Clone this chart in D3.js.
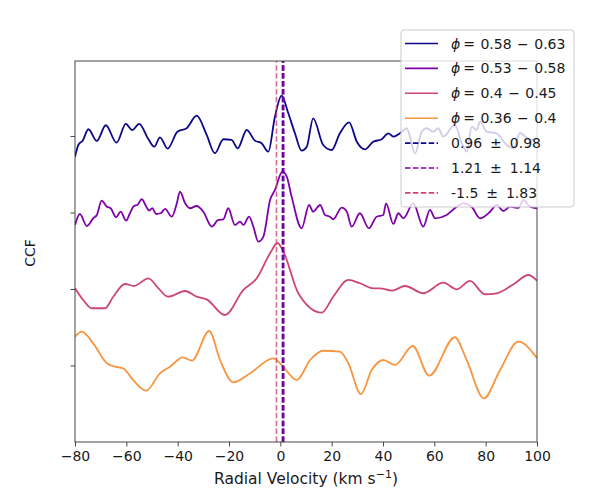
<!DOCTYPE html>
<html>
<head>
<meta charset="utf-8">
<script src="https://cdn.jsdelivr.net/npm/d3@7"></script>
<style>
  body { margin: 0; background: #fff; }
  text { font-family: "DejaVu Sans", sans-serif; fill: #1a1a1a; }
</style>
</head>
<body>
<div id="chart"></div>
<script>
const width = 595;
const height = 497;
const margin = {top: 61, right: 58, bottom: 55, left: 75};

// velocity knots (km/s) and CCF (offset) values
const blueV = [-80, -78.7, -77.0, -74.8, -71.5, -68.0, -63.8, -60.2, -57.7, -55.0, -51.4, -49.1, -46.9, -43.9, -40.1, -36.5, -32.6, -28.7, -25.5, -22.2, -19.0, -16.6, -13.1, -9.9, -7.3, -4.7, -2.1, 0.5, 3.1, 5.7, 8.3, 10.3, 12.8, 16.7, 20.0, 23.2, 26.8, 29.8, 33.0, 36.2, 39.5, 42.1, 44.0, 46.6, 49.2, 52.5, 55.1, 57.0, 59.6, 61.5, 63.5, 68.0, 70.7, 72.6, 74.6, 76.5, 77.8, 80.4, 84.3, 88.2, 90.8, 93.4, 97.3, 100];
const blueY = [3.729, 3.882, 3.939, 4.088, 3.935, 4.140, 3.912, 4.157, 4.078, 4.157, 3.957, 3.860, 3.983, 3.834, 4.056, 4.101, 4.265, 4.013, 3.774, 3.957, 3.948, 3.839, 4.078, 3.939, 3.905, 3.795, 4.252, 4.527, 4.297, 4.035, 3.808, 3.860, 4.231, 3.882, 3.817, 4.035, 4.179, 3.925, 3.826, 3.925, 3.957, 4.035, 3.991, 4.035, 4.101, 3.774, 4.056, 4.101, 4.056, 4.101, 3.991, 4.144, 3.905, 3.795, 4.122, 4.078, 4.187, 4.056, 4.035, 3.882, 3.839, 4.039, 3.948, 3.974];

const purpleV = [-80, -78.1, -75.4, -72.9, -71.5, -69.6, -67.6, -66.1, -64.0, -62.2, -60.1, -58.6, -57.0, -55.7, -54.0, -52.1, -51.1, -49.9, -48.4, -46.6, -44.9, -42.3, -40.4, -39.1, -37.1, -35.2, -32.6, -30.0, -26.7, -24.2, -22.2, -20.3, -17.7, -15.7, -14.4, -12.2, -10.5, -8.6, -6.6, -4.0, -2.1, 0.8, 2.5, 4.4, 8.3, 11.2, 12.8, 15.5, 17.4, 19.3, 20.6, 23.9, 25.9, 27.8, 31.0, 34.5, 37.5, 40.1, 41.2, 44.0, 46.0, 47.9, 51.8, 55.7, 58.3, 60.3, 64.8, 68.7, 71.3, 74.6, 77.8, 81.7, 84.3, 86.9, 89.5, 92.7, 94.7, 97.3, 100];
const purpleY = [2.837, 2.980, 2.824, 2.924, 2.967, 3.154, 3.076, 3.055, 2.937, 3.010, 2.893, 2.990, 3.085, 3.098, 3.173, 3.068, 3.024, 3.055, 2.980, 2.990, 3.046, 2.945, 3.111, 3.272, 3.120, 3.055, 3.085, 3.010, 2.814, 2.902, 2.911, 3.055, 2.837, 2.880, 2.837, 2.945, 2.814, 2.618, 2.684, 3.163, 3.294, 3.533, 3.468, 3.207, 2.793, 3.098, 3.010, 3.098, 2.967, 2.945, 2.911, 3.063, 3.010, 2.814, 2.990, 2.793, 2.945, 2.967, 3.120, 2.850, 2.990, 2.924, 3.120, 2.814, 3.033, 2.924, 2.967, 3.076, 3.120, 3.072, 2.924, 3.010, 3.098, 3.020, 3.076, 3.059, 3.163, 3.076, 3.055];

const pinkV = [-80, -76.8, -73.5, -68.3, -65.1, -60.5, -57.0, -51.4, -47.5, -43.7, -37.1, -32.6, -28.7, -21.6, -14.4, -9.2, -4.0, -1.1, 1.2, 7.0, 16.1, 20.6, 26.5, 31.0, 36.2, 38.8, 43.4, 48.6, 55.7, 63.5, 68.7, 73.9, 79.7, 84.3, 91.4, 96.6, 100];
const pinkY = [2.009, 1.856, 1.748, 1.748, 1.899, 2.065, 2.039, 2.140, 2.009, 1.899, 1.974, 1.899, 1.865, 1.660, 1.987, 2.140, 2.467, 2.601, 2.488, 1.944, 1.690, 1.899, 2.118, 2.075, 2.009, 2.009, 1.978, 2.039, 1.944, 2.082, 1.996, 2.105, 1.931, 1.944, 2.075, 2.183, 2.108];

const orangeV = [-80, -77.4, -72.9, -67.6, -64.4, -61.2, -57.9, -52.3, -46.9, -43.0, -38.0, -34.5, -27.7, -23.5, -18.3, -11.8, -2.7, 0.5, 6.4, 11.6, 16.7, 23.2, 26.5, 31.4, 35.6, 40.1, 44.7, 51.6, 58.0, 68.0, 72.6, 79.3, 85.6, 92.7, 100];
const orangeY = [1.376, 1.442, 1.290, 1.029, 0.984, 0.963, 0.833, 0.671, 0.898, 0.984, 1.107, 1.063, 1.451, 1.072, 0.780, 0.898, 1.094, 1.007, 0.810, 1.072, 1.193, 1.180, 1.029, 0.627, 0.941, 1.072, 1.007, 1.255, 0.867, 1.369, 1.072, 0.571, 0.941, 1.311, 1.094];

const phases = ["0.58 \u2212 0.63", "0.53 \u2212 0.58", "0.4 \u2212 0.45", "0.36 \u2212 0.4"];
const colors = ["#0d0887", "#7e03a8", "#cc4778", "#f89540"];
const rvFits = [0.96, 1.21, -1.5];
const rvLabels = ["0.96 \u00b1 0.98", "1.21 \u00b1 1.14", "-1.5 \u00b1 1.83"];
const xTicks = [-80, -60, -40, -20, 0, 20, 40, 60, 80, 100];
const yTicks = [1, 2, 3, 4];

const series = [
  {v: blueV, y: blueY},
  {v: purpleV, y: purpleY},
  {v: pinkV, y: pinkY},
  {v: orangeV, y: orangeY}
];

const svg = d3.select('#chart')
  .append('svg')
  .attr('width', width)
  .attr('height', height);

const x = d3.scaleLinear()
  .domain([-80, 100])
  .range([margin.left, width - margin.right]);

const y = d3.scaleLinear()
  .domain([0, 4.98])
  .range([height - margin.bottom, margin.top]);

const line = d3.line()
  .x(d => x(d[0]))
  .y(d => y(d[1]))
  .curve(d3.curveMonotoneX);

svg.append('defs').append('clipPath').attr('id', 'clip')
  .append('rect')
  .attr('x', margin.left).attr('y', margin.top)
  .attr('width', width - margin.left - margin.right)
  .attr('height', height - margin.top - margin.bottom);

const plot = svg.append('g').attr('clip-path', 'url(#clip)');

series.forEach((s, i) => {
  plot.append('path')
    .datum(s.v.map((v, j) => [v, s.y[j]]))
    .attr('fill', 'none')
    .attr('stroke', colors[i])
    .attr('stroke-width', 1.8)
    .attr('stroke-linejoin', 'round')
    .attr('d', line);
});

// fitted velocities, pink first so blue/purple sit on top
const vWidths = [2.2, 2.2, 1.6];
[2, 0, 1].forEach(i => {
  plot.append('line')
    .attr('x1', x(rvFits[i])).attr('x2', x(rvFits[i]))
    .attr('y1', y(0)).attr('y2', margin.top)
    .attr('stroke', colors[i])
    .attr('stroke-width', vWidths[i])
    .attr('stroke-opacity', i === 2 ? 0.8 : 1)
    .attr('stroke-dasharray', '5.5,2.4');
});

function xAxis(g){
  g.attr('transform', `translate(0, ${height - margin.bottom})`)
    .call(d3.axisBottom(x).tickValues(xTicks).tickSizeOuter(0).tickSize(4.5).tickPadding(4.5)
      .tickFormat(d => d < 0 ? '\u2212' + Math.abs(d) : d))
    .attr('font-size', 14)
    .attr('font-family', '"DejaVu Sans", sans-serif');
  g.select('.domain').remove();
  g.selectAll('line').attr('stroke', '#333').attr('stroke-width', 0.9);
  g.selectAll('text').attr('fill', '#1a1a1a');
}

function yAxis(g){
  g.attr('transform', `translate(${margin.left}, 0)`)
    .call(d3.axisLeft(y).tickValues(yTicks).tickSize(4.5).tickFormat(''));
  g.select('.domain').remove();
  g.selectAll('line').attr('stroke', '#333').attr('stroke-width', 0.9);
}

svg.append('g').call(xAxis);
svg.append('g').call(yAxis);

// axes frame
svg.append('rect')
  .attr('x', margin.left).attr('y', margin.top)
  .attr('width', width - margin.left - margin.right)
  .attr('height', height - margin.top - margin.bottom)
  .attr('fill', 'none')
  .attr('stroke', '#333')
  .attr('stroke-width', 0.9);

svg.append('text')
  .attr('x', (margin.left + width - margin.right) / 2)
  .attr('y', 484)
  .attr('text-anchor', 'middle')
  .attr('font-size', 15.5)
  .call(t => {
    t.append('tspan').text('Radial Velocity (km s');
    t.append('tspan').attr('font-size', 11).attr('dy', -6).text('\u22121');
    t.append('tspan').attr('dy', 6).text(')');
  });

svg.append('text')
  .attr('transform', `translate(35, 253) rotate(-90)`)
  .attr('text-anchor', 'middle')
  .attr('font-size', 14)
  .text('CCF');

// legend
const leg = svg.append('g').attr('transform', 'translate(401, 30)');
leg.append('rect')
  .attr('width', 173).attr('height', 177)
  .attr('rx', 3)
  .attr('fill', 'white').attr('fill-opacity', 0.8)
  .attr('stroke', '#cccccc').attr('stroke-width', 1);

const entries = phases.map((p, i) => ({color: colors[i], dash: null, phase: p}))
  .concat(rvLabels.map((l, i) => ({color: colors[i], dash: '5.5,2.4', label: l})));

entries.forEach((e, i) => {
  const cy = 13.5 + i * 24.9;
  leg.append('line')
    .attr('x1', 4).attr('x2', 37)
    .attr('y1', cy).attr('y2', cy)
    .attr('stroke', e.color)
    .attr('stroke-width', 1.6)
    .attr('stroke-dasharray', e.dash);
  const t = leg.append('text')
    .attr('x', 50).attr('y', cy + 5)
    .attr('font-size', 14);
  if (e.phase) {
    t.attr('word-spacing', 1);
    t.append('tspan').attr('font-style', 'italic').text('\u03d5');
    t.append('tspan').attr('dx', 3).text('= ' + e.phase);
  } else {
    t.attr('word-spacing', 3.5).text(e.label);
  }
});
</script>
</body>
</html>
